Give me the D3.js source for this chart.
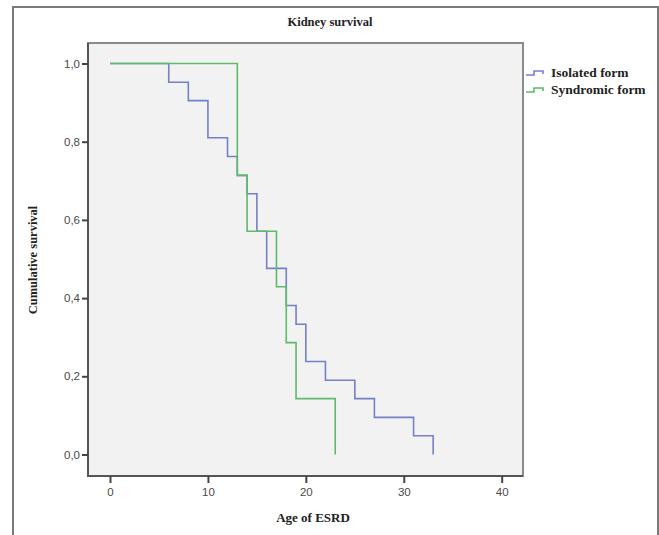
<!DOCTYPE html>
<html><head><meta charset="utf-8">
<script src="https://cdn.jsdelivr.net/npm/d3@7"></script>
<style>body{margin:0;background:#fff}svg{display:block}</style>
</head><body>
<svg id="c" width="659" height="535"></svg>
<script>
const isolatedTimes = [0, 6, 8, 10, 12, 13, 14, 15, 16, 18, 19, 20, 22, 25, 27, 31, 33];
const isolatedSurv  = [1.000, 0.952, 0.905, 0.810, 0.762, 0.714, 0.667, 0.571, 0.476, 0.381, 0.333, 0.238, 0.190, 0.143, 0.095, 0.048, 0.000];
const syndromicTimes = [0, 13, 14, 17, 18, 19, 23];
const syndromicSurv  = [1.000, 0.714, 0.571, 0.429, 0.286, 0.143, 0.000];
const seriesNames = ["Isolated form", "Syndromic form"];
const xTicks = [0, 10, 20, 30, 40];
const yTicks = [0, 0.2, 0.4, 0.6, 0.8, 1.0];
const colors = ["#7480c8", "#5fba6a"];

const svg = d3.select("#c");
const box = {l: 88, r: 523, t: 43, b: 476};
const x = d3.scaleLinear().domain([0, 40]).range([110, 501.7]);
const y = d3.scaleLinear().domain([0, 1]).range([454.5, 63.5]);

// outer frame
svg.append("path").attr("d", "M13,535 L13,7 L658,7 L658,535")
  .attr("fill", "none").attr("stroke", "#7a7a7a").attr("stroke-width", 2);

// plot background
svg.append("rect").attr("x", box.l).attr("y", box.t).attr("width", box.r - box.l).attr("height", box.b - box.t)
  .attr("fill", "#f2f2f2").attr("stroke", "#8a8a8a").attr("stroke-width", 2);
svg.append("path").attr("d", `M${box.l},${box.t} L${box.l},${box.b} L${box.r},${box.b}`)
  .attr("fill", "none").attr("stroke", "#555").attr("stroke-width", 2);

// axes
const fmt = d => d3.format(".1f")(d).replace(".", ",");
const yAxis = svg.append("g").attr("transform", `translate(${box.l},0)`)
  .call(d3.axisLeft(y).tickValues(yTicks).tickFormat(fmt).tickSize(6).tickPadding(2));
const xAxis = svg.append("g").attr("transform", `translate(0,${box.b})`)
  .call(d3.axisBottom(x).tickValues(xTicks).tickFormat(d3.format("d")).tickSize(7).tickPadding(5));
[yAxis, xAxis].forEach(a => {
  a.select(".domain").remove();
  a.selectAll("line").attr("stroke", "#444").attr("stroke-width", 2);
  a.selectAll("text").attr("fill", "#4a4a4a").style("font-family", "Liberation Sans, Arial, sans-serif").style("font-size", "11.5px");
});

// lines
const line = d3.line().x(d => x(d[0])).y(d => y(d[1])).curve(d3.curveStepAfter);
const data = [
  d3.zip(isolatedTimes, isolatedSurv),
  d3.zip(syndromicTimes, syndromicSurv)
];
svg.append("path").datum(data[0]).attr("d", line).attr("fill", "none").attr("stroke", colors[0]).attr("stroke-width", 1.6);
svg.append("path").datum(data[1]).attr("d", line).attr("fill", "none").attr("stroke", colors[1]).attr("stroke-width", 1.6);

// titles
const serif = "Liberation Serif, Times New Roman, serif";
svg.append("text").attr("x", 330).attr("y", 26).attr("text-anchor", "middle")
  .style("font-family", serif).style("font-weight", "bold").style("font-size", "12.5px").attr("fill", "#222")
  .text("Kidney survival");
svg.append("text").attr("x", 313).attr("y", 522).attr("text-anchor", "middle")
  .style("font-family", serif).style("font-weight", "bold").style("font-size", "13px").attr("fill", "#222")
  .text("Age of ESRD");
svg.append("text").attr("transform", "translate(37,260) rotate(-90)").attr("text-anchor", "middle")
  .style("font-family", serif).style("font-weight", "bold").style("font-size", "12.5px").attr("fill", "#222")
  .text("Cumulative survival");

// legend
const lg = svg.append("g");
seriesNames.forEach((n, i) => {
  const yy = 73 + i * 17;
  lg.append("path").attr("d", `M526,${yy + 2} L534,${yy + 2} L534,${yy - 2} L543,${yy - 2} L543,${yy + 1}`)
    .attr("fill", "none").attr("stroke", colors[i]).attr("stroke-width", 1.6);
  lg.append("text").attr("x", 551).attr("y", yy + 4)
    .style("font-family", serif).style("font-weight", "bold").style("font-size", "13.5px").attr("fill", "#222")
    .text(n);
});
</script>
</body></html>
